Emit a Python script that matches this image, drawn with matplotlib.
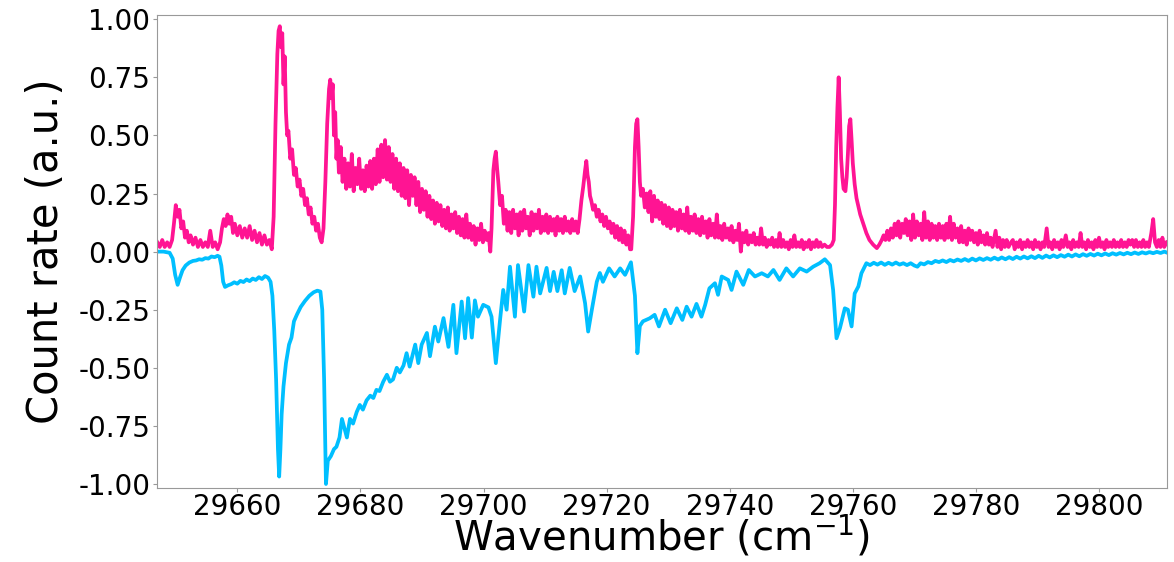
import numpy as np
import matplotlib
matplotlib.use("Agg")
import matplotlib.pyplot as plt

exp_pts = [
    (29647.0, 0.04), (29647.4, 0.02), (29647.8, 0.05), (29648.2, 0.02), (29648.6, 0.04), (29649.0, 0.02), (29649.4, 0.05),
    (29649.7, 0.12), (29650.0, 0.20), (29650.3, 0.15), (29650.6, 0.18), (29650.9, 0.10), (29651.2, 0.13), (29651.5, 0.06),
    (29651.8, 0.09), (29652.1, 0.04), (29652.4, 0.07), (29652.8, 0.03), (29653.2, 0.06), (29653.6, 0.02), (29654.0, 0.05),
    (29654.4, 0.02), (29654.8, 0.04), (29655.2, 0.02), (29655.6, 0.09), (29656.0, 0.02), (29656.4, 0.04), (29656.8, 0.01),
    (29657.2, 0.04), (29657.5, 0.10), (29657.8, 0.14), (29658.1, 0.11), (29658.4, 0.16), (29658.7, 0.12), (29659.0, 0.15),
    (29659.3, 0.08), (29659.6, 0.12), (29660.0, 0.07), (29660.4, 0.11), (29660.8, 0.06), (29661.2, 0.10), (29661.6, 0.06),
    (29662.0, 0.11), (29662.4, 0.05), (29662.8, 0.09), (29663.2, 0.04), (29663.6, 0.08), (29664.0, 0.03), (29664.4, 0.07),
    (29664.8, 0.03), (29665.2, 0.05), (29665.6, 0.01),
    (29665.9, 0.15), (29666.2, 0.55), (29666.5, 0.85), (29666.7, 0.95), (29666.9, 0.97), (29667.1, 0.88), (29667.3, 0.94),
    (29667.5, 0.72), (29667.7, 0.84), (29667.9, 0.60), (29668.1, 0.50), (29668.3, 0.52), (29668.6, 0.40), (29668.9, 0.44),
    (29669.2, 0.33), (29669.5, 0.36), (29669.8, 0.28), (29670.1, 0.31), (29670.4, 0.24), (29670.7, 0.27), (29671.0, 0.20),
    (29671.3, 0.23), (29671.6, 0.16), (29671.9, 0.19), (29672.2, 0.12), (29672.5, 0.15), (29672.8, 0.09), (29673.1, 0.12),
    (29673.4, 0.06), (29673.7, 0.04),
    (29674.0, 0.10), (29674.3, 0.30), (29674.6, 0.55), (29674.9, 0.70), (29675.1, 0.74), (29675.3, 0.66), (29675.5, 0.72),
    (29675.7, 0.50), (29675.9, 0.60), (29676.1, 0.40), (29676.3, 0.48), (29676.5, 0.34), (29676.8, 0.45), (29677.1, 0.30),
    (29677.4, 0.40), (29677.7, 0.27), (29678.0, 0.38), (29678.3, 0.28), (29678.6, 0.42), (29678.9, 0.26), (29679.2, 0.36),
    (29679.5, 0.29), (29679.8, 0.40), (29680.1, 0.27), (29680.4, 0.35), (29680.7, 0.26), (29681.0, 0.37), (29681.3, 0.28),
    (29681.6, 0.39), (29681.9, 0.27), (29682.2, 0.40), (29682.5, 0.29), (29682.8, 0.44), (29683.1, 0.30), (29683.4, 0.46),
    (29683.7, 0.32), (29684.0, 0.48), (29684.3, 0.31), (29684.6, 0.45), (29684.9, 0.30), (29685.2, 0.42), (29685.5, 0.27),
    (29685.8, 0.40), (29686.1, 0.26), (29686.4, 0.38), (29686.7, 0.24), (29687.0, 0.36), (29687.3, 0.23), (29687.6, 0.35),
    (29687.9, 0.20), (29688.2, 0.33), (29688.5, 0.24), (29688.8, 0.32), (29689.1, 0.20), (29689.4, 0.30), (29689.7, 0.17),
    (29690.0, 0.27), (29690.3, 0.18), (29690.6, 0.26), (29690.9, 0.15), (29691.2, 0.24), (29691.5, 0.14), (29691.8, 0.22),
    (29692.1, 0.12), (29692.4, 0.21), (29692.7, 0.13), (29693.0, 0.20), (29693.3, 0.11), (29693.6, 0.18), (29693.9, 0.10),
    (29694.2, 0.19), (29694.5, 0.09), (29694.8, 0.16), (29695.1, 0.10), (29695.4, 0.17), (29695.7, 0.08), (29696.0, 0.15),
    (29696.3, 0.07), (29696.6, 0.14), (29696.9, 0.06), (29697.2, 0.16), (29697.5, 0.06), (29697.8, 0.12), (29698.1, 0.05),
    (29698.4, 0.11), (29698.7, 0.03), (29699.0, 0.10), (29699.3, 0.05), (29699.6, 0.12), (29699.9, 0.04), (29700.2, 0.09),
    (29700.5, 0.05), (29700.8, 0.08), (29701.1, 0.00),
    (29701.3, 0.10), (29701.6, 0.35), (29701.8, 0.40), (29702.0, 0.43), (29702.2, 0.36), (29702.4, 0.30), (29702.7, 0.20),
    (29703.0, 0.24), (29703.3, 0.12), (29703.6, 0.18), (29703.9, 0.09), (29704.2, 0.17), (29704.5, 0.08), (29704.8, 0.18),
    (29705.1, 0.10), (29705.4, 0.16), (29705.7, 0.07), (29706.0, 0.17), (29706.3, 0.09), (29706.6, 0.18), (29706.9, 0.10),
    (29707.2, 0.15), (29707.5, 0.07), (29707.8, 0.17), (29708.1, 0.09), (29708.4, 0.16), (29708.7, 0.10), (29709.0, 0.18),
    (29709.3, 0.08), (29709.6, 0.15), (29709.9, 0.09), (29710.2, 0.16), (29710.5, 0.08), (29710.8, 0.15), (29711.1, 0.09),
    (29711.4, 0.14), (29711.7, 0.07), (29712.0, 0.15), (29712.3, 0.09), (29712.6, 0.14), (29712.9, 0.08), (29713.2, 0.15),
    (29713.5, 0.09), (29713.8, 0.13), (29714.1, 0.08), (29714.4, 0.14), (29714.7, 0.09), (29715.0, 0.13), (29715.3, 0.08),
    (29715.6, 0.14), (29715.9, 0.22), (29716.2, 0.28), (29716.5, 0.35), (29716.7, 0.39), (29716.9, 0.33), (29717.1, 0.30),
    (29717.3, 0.24), (29717.5, 0.22), (29717.8, 0.18), (29718.1, 0.20), (29718.4, 0.15), (29718.7, 0.18), (29719.0, 0.13),
    (29719.3, 0.16), (29719.6, 0.11), (29719.9, 0.15), (29720.2, 0.10), (29720.5, 0.13), (29720.8, 0.08), (29721.1, 0.12),
    (29721.4, 0.06), (29721.7, 0.11), (29722.0, 0.05), (29722.3, 0.10), (29722.6, 0.04), (29722.9, 0.09), (29723.2, 0.03),
    (29723.5, 0.07), (29723.8, 0.01), (29724.0, 0.01),
    (29724.3, 0.15), (29724.6, 0.45), (29724.8, 0.55), (29725.0, 0.57), (29725.2, 0.45), (29725.4, 0.30), (29725.6, 0.24),
    (29725.9, 0.27), (29726.2, 0.19), (29726.5, 0.25), (29726.8, 0.17), (29727.1, 0.26), (29727.4, 0.13), (29727.7, 0.24),
    (29728.0, 0.15), (29728.3, 0.22), (29728.6, 0.14), (29728.9, 0.21), (29729.2, 0.12), (29729.5, 0.20), (29729.8, 0.11),
    (29730.1, 0.19), (29730.4, 0.10), (29730.7, 0.18), (29731.0, 0.11), (29731.3, 0.17), (29731.6, 0.09), (29731.9, 0.18),
    (29732.2, 0.10), (29732.5, 0.16), (29732.8, 0.09), (29733.1, 0.19), (29733.4, 0.08), (29733.7, 0.15), (29734.0, 0.09),
    (29734.3, 0.16), (29734.6, 0.08), (29734.9, 0.14), (29735.2, 0.07), (29735.5, 0.15), (29735.8, 0.08), (29736.1, 0.13),
    (29736.4, 0.06), (29736.7, 0.14), (29737.0, 0.07), (29737.3, 0.12), (29737.6, 0.06), (29737.9, 0.16), (29738.2, 0.06),
    (29738.5, 0.11), (29738.8, 0.05), (29739.1, 0.12), (29739.4, 0.06), (29739.7, 0.10), (29740.0, 0.05), (29740.3, 0.11),
    (29740.6, 0.04), (29740.9, 0.09), (29741.2, 0.05), (29741.5, 0.12), (29741.8, 0.00), (29742.1, 0.08), (29742.4, 0.04),
    (29742.7, 0.09), (29743.0, 0.03), (29743.3, 0.07), (29743.6, 0.04), (29743.9, 0.08), (29744.2, 0.03), (29744.5, 0.06),
    (29744.8, 0.03), (29745.1, 0.10), (29745.4, 0.03), (29745.7, 0.06), (29746.0, 0.02), (29746.3, 0.05), (29746.6, 0.03),
    (29746.9, 0.06), (29747.2, 0.02), (29747.5, 0.05), (29747.8, 0.02), (29748.1, 0.08), (29748.4, 0.02), (29748.7, 0.05),
    (29749.0, 0.02), (29749.3, 0.04), (29749.6, 0.01), (29749.9, 0.05), (29750.2, 0.02), (29750.5, 0.07), (29750.8, 0.02),
    (29751.1, 0.04), (29751.4, 0.02), (29751.7, 0.05), (29752.0, 0.01), (29752.3, 0.04), (29752.6, 0.02), (29752.9, 0.05),
    (29753.2, 0.01), (29753.5, 0.04), (29753.8, 0.02), (29754.1, 0.05), (29754.4, 0.02), (29754.7, 0.04), (29755.0, 0.02),
    (29755.4, 0.03), (29755.8, 0.02), (29756.2, 0.02), (29756.6, 0.03), (29756.9, 0.05),
    (29757.1, 0.20), (29757.3, 0.45), (29757.5, 0.62), (29757.7, 0.75), (29757.9, 0.60), (29758.1, 0.40), (29758.3, 0.32),
    (29758.5, 0.27), (29758.8, 0.26), (29759.0, 0.32), (29759.2, 0.42), (29759.4, 0.54), (29759.6, 0.57), (29759.8, 0.48),
    (29760.0, 0.38), (29760.3, 0.29), (29760.6, 0.23), (29761.2, 0.16), (29761.7, 0.12), (29762.2, 0.08), (29762.7, 0.05),
    (29763.3, 0.03), (29763.9, 0.015), (29764.3, 0.03), (29764.7, 0.05), (29765.0, 0.07), (29765.3, 0.05), (29765.6, 0.09),
    (29765.9, 0.05), (29766.2, 0.10), (29766.5, 0.06), (29766.8, 0.12), (29767.1, 0.07), (29767.4, 0.13), (29767.7, 0.06),
    (29768.0, 0.12), (29768.3, 0.08), (29768.6, 0.14), (29768.9, 0.07), (29769.2, 0.13), (29769.5, 0.05), (29769.8, 0.16),
    (29770.1, 0.06), (29770.4, 0.13), (29770.7, 0.07), (29771.0, 0.12), (29771.3, 0.05), (29771.6, 0.17), (29771.9, 0.06),
    (29772.2, 0.13), (29772.5, 0.05), (29772.8, 0.12), (29773.1, 0.06), (29773.4, 0.11), (29773.7, 0.05), (29774.0, 0.12),
    (29774.3, 0.06), (29774.6, 0.11), (29774.9, 0.05), (29775.2, 0.12), (29775.5, 0.06), (29775.8, 0.15), (29776.1, 0.05),
    (29776.4, 0.12), (29776.7, 0.06), (29777.0, 0.10), (29777.3, 0.04), (29777.6, 0.11), (29777.9, 0.04), (29778.2, 0.09),
    (29778.5, 0.03), (29778.8, 0.10), (29779.1, 0.05), (29779.4, 0.09), (29779.7, 0.04), (29780.0, 0.08), (29780.3, 0.03),
    (29780.6, 0.09), (29780.9, 0.04), (29781.2, 0.07), (29781.5, 0.03), (29781.8, 0.08), (29782.1, 0.03), (29782.4, 0.06),
    (29782.7, 0.02), (29783.2, 0.09), (29783.5, 0.02), (29783.8, 0.06), (29784.1, 0.01), (29784.4, 0.05), (29784.7, 0.02),
    (29785.0, 0.05), (29785.3, 0.02), (29785.7, 0.04), (29786.0, 0.05), (29786.3, 0.01), (29786.6, 0.04), (29786.9, 0.02),
    (29787.2, 0.05), (29787.5, 0.01), (29787.8, 0.04), (29788.1, 0.02), (29788.4, 0.05), (29788.7, 0.02), (29789.0, 0.04),
    (29789.3, 0.01), (29789.6, 0.05), (29789.9, 0.02), (29790.2, 0.04), (29790.5, 0.01), (29790.8, 0.04), (29791.1, 0.02),
    (29791.5, 0.10), (29791.8, 0.02), (29792.1, 0.04), (29792.4, 0.01), (29792.7, 0.05), (29793.0, 0.02), (29793.3, 0.04),
    (29793.6, 0.01), (29793.9, 0.05), (29794.2, 0.02), (29794.6, 0.07), (29794.9, 0.02), (29795.2, 0.04), (29795.5, 0.01),
    (29795.8, 0.05), (29796.1, 0.02), (29796.4, 0.04), (29796.7, 0.02), (29797.0, 0.08), (29797.3, 0.02), (29797.6, 0.04),
    (29797.9, 0.01), (29798.2, 0.05), (29798.5, 0.02), (29798.8, 0.04), (29799.1, 0.01), (29799.4, 0.05), (29799.7, 0.02),
    (29800.0, 0.06), (29800.3, 0.02), (29800.6, 0.04), (29800.9, 0.01), (29801.2, 0.05), (29801.5, 0.02), (29801.8, 0.04),
    (29802.1, 0.02), (29802.4, 0.05), (29802.7, 0.02), (29803.0, 0.04), (29803.3, 0.02), (29803.6, 0.05), (29803.9, 0.02),
    (29804.2, 0.04), (29804.5, 0.02), (29804.8, 0.05), (29805.1, 0.03), (29805.4, 0.05), (29805.7, 0.02), (29806.0, 0.05),
    (29806.3, 0.02), (29806.6, 0.04), (29806.9, 0.02), (29807.2, 0.05), (29807.5, 0.02), (29807.8, 0.04), (29808.1, 0.02),
    (29808.5, 0.08), (29808.8, 0.14), (29809.1, 0.04), (29809.4, 0.02), (29809.7, 0.05), (29810.0, 0.02), (29810.3, 0.06),
    (29810.6, 0.02), (29811.0, 0.04),
]

# simulated spectrum, drawn mirrored (negative) under the measurement
sim_pts = [
    (29647.0, 0.000), (29648.0, 0.000), (29649.0, -0.005), (29649.5, -0.030), (29649.9, -0.100), (29650.3, -0.143),
    (29650.7, -0.110), (29651.1, -0.080), (29651.6, -0.060), (29652.2, -0.047), (29652.8, -0.040), (29653.3, -0.038),
    (29653.8, -0.033), (29654.3, -0.035), (29654.8, -0.028), (29655.3, -0.030), (29655.8, -0.021), (29656.3, -0.024),
    (29656.8, -0.018), (29657.1, -0.022), (29657.4, -0.060), (29657.7, -0.130), (29658.0, -0.152), (29658.5, -0.145),
    (29659.0, -0.140), (29659.5, -0.132), (29660.0, -0.138), (29660.5, -0.126), (29661.0, -0.131), (29661.5, -0.120),
    (29662.0, -0.127), (29662.5, -0.116), (29663.0, -0.122), (29663.5, -0.110), (29664.0, -0.118), (29664.5, -0.105),
    (29665.0, -0.112), (29665.4, -0.130), (29665.7, -0.190), (29666.0, -0.340), (29666.3, -0.550), (29666.6, -0.850),
    (29666.8, -0.968), (29667.0, -0.850), (29667.2, -0.700), (29667.5, -0.580), (29667.9, -0.480), (29668.4, -0.400),
    (29668.8, -0.370), (29669.2, -0.300), (29669.7, -0.270), (29670.3, -0.238), (29671.0, -0.212), (29671.7, -0.190),
    (29672.4, -0.175), (29673.0, -0.168), (29673.5, -0.172), (29673.8, -0.250), (29674.1, -0.550), (29674.4, -1.000),
    (29674.7, -0.900), (29675.2, -0.880), (29675.7, -0.850), (29676.1, -0.840), (29676.6, -0.800), (29677.0, -0.720),
    (29677.4, -0.760), (29677.8, -0.800), (29678.3, -0.720), (29678.8, -0.740), (29679.4, -0.690), (29679.9, -0.660),
    (29680.4, -0.680), (29681.0, -0.640), (29681.6, -0.620), (29682.1, -0.630), (29682.6, -0.595), (29683.1, -0.600),
    (29683.7, -0.560), (29684.3, -0.530), (29684.8, -0.560), (29685.3, -0.550), (29685.9, -0.500), (29686.4, -0.520),
    (29687.0, -0.490), (29687.5, -0.437), (29688.0, -0.495), (29688.9, -0.400), (29689.4, -0.480), (29689.95, -0.400),
    (29690.8, -0.350), (29691.3, -0.450), (29692.1, -0.323), (29692.65, -0.387), (29693.5, -0.286), (29694.3, -0.410),
    (29695.1, -0.229), (29695.6, -0.437), (29696.45, -0.215), (29697.0, -0.373), (29697.5, -0.200), (29698.1, -0.370),
    (29698.6, -0.210), (29699.1, -0.280), (29699.95, -0.229), (29700.8, -0.240), (29701.3, -0.280), (29702.0, -0.480),
    (29702.7, -0.290), (29703.2, -0.165), (29703.75, -0.250), (29704.3, -0.065), (29705.1, -0.280), (29705.6, -0.058),
    (29706.6, -0.258), (29707.3, -0.058), (29708.1, -0.194), (29708.6, -0.065), (29709.2, -0.180), (29710.25, -0.070),
    (29710.8, -0.170), (29711.4, -0.087), (29712.0, -0.170), (29712.7, -0.080), (29713.2, -0.180), (29714.0, -0.070),
    (29714.8, -0.170), (29715.7, -0.107), (29716.5, -0.222), (29717.0, -0.344), (29717.6, -0.250), (29718.4, -0.130),
    (29718.9, -0.092), (29719.4, -0.130), (29720.4, -0.072), (29721.3, -0.107), (29722.2, -0.072), (29723.0, -0.100),
    (29723.95, -0.046), (29724.6, -0.190), (29725.0, -0.437), (29725.4, -0.320), (29725.9, -0.300), (29727.0, -0.287),
    (29727.8, -0.272), (29728.5, -0.322), (29729.5, -0.250), (29730.4, -0.308), (29731.4, -0.244), (29732.3, -0.294),
    (29733.0, -0.237), (29733.8, -0.280), (29734.6, -0.225), (29735.4, -0.280), (29736.0, -0.230), (29736.7, -0.158),
    (29737.6, -0.136), (29738.1, -0.186), (29738.7, -0.107), (29739.75, -0.122), (29740.3, -0.165), (29741.1, -0.086),
    (29742.2, -0.143), (29743.1, -0.079), (29744.1, -0.107), (29745.2, -0.093), (29746.2, -0.107), (29747.1, -0.079),
    (29748.1, -0.122), (29749.2, -0.072), (29750.3, -0.107), (29751.4, -0.072), (29752.5, -0.086), (29753.55, -0.065),
    (29754.6, -0.050), (29755.45, -0.033), (29756.3, -0.058), (29756.8, -0.165), (29757.35, -0.373), (29757.9, -0.330),
    (29758.7, -0.244), (29759.2, -0.250), (29759.8, -0.322), (29760.3, -0.180), (29760.9, -0.150), (29761.4, -0.093),
    (29762.2, -0.050), (29762.8, -0.058), (29763.4, -0.048), (29764.0, -0.056), (29764.6, -0.047), (29765.2, -0.057),
    (29765.8, -0.048), (29766.4, -0.056), (29767.0, -0.047), (29767.6, -0.056), (29768.2, -0.050), (29768.8, -0.058),
    (29769.4, -0.050), (29770.0, -0.060), (29770.5, -0.065), (29771.0, -0.050), (29771.6, -0.055), (29772.2, -0.045),
    (29772.8, -0.050), (29773.4, -0.040), (29774.0, -0.045), (29774.6, -0.038), (29775.2, -0.045), (29775.8, -0.036),
    (29776.4, -0.042), (29777.0, -0.034), (29777.6, -0.040), (29778.2, -0.032), (29778.8, -0.040), (29779.4, -0.030),
    (29780.0, -0.038), (29780.6, -0.029), (29781.2, -0.036), (29781.8, -0.028), (29782.4, -0.035), (29783.0, -0.026),
    (29783.6, -0.034), (29784.2, -0.025), (29784.8, -0.033), (29785.4, -0.024), (29786.0, -0.032), (29786.6, -0.022),
    (29787.2, -0.030), (29787.8, -0.021), (29788.4, -0.029), (29789.0, -0.020), (29789.6, -0.028), (29790.2, -0.018),
    (29790.8, -0.027), (29791.4, -0.017), (29792.0, -0.025), (29792.6, -0.016), (29793.2, -0.024), (29793.8, -0.015),
    (29794.4, -0.022), (29795.0, -0.013), (29795.6, -0.021), (29796.2, -0.012), (29796.8, -0.020), (29797.4, -0.011),
    (29798.0, -0.018), (29798.6, -0.010), (29799.2, -0.017), (29799.8, -0.009), (29800.4, -0.016), (29801.0, -0.008),
    (29801.6, -0.015), (29802.2, -0.007), (29802.8, -0.013), (29803.4, -0.006), (29804.0, -0.012), (29804.6, -0.005),
    (29805.2, -0.011), (29805.8, -0.004), (29806.4, -0.010), (29807.0, -0.003), (29807.6, -0.008), (29808.2, -0.002),
    (29808.8, -0.007), (29809.4, -0.001), (29810.0, -0.006), (29810.6, 0.000), (29811.0, -0.004),
]

x_ticks = [29660, 29680, 29700, 29720, 29740, 29760, 29780, 29800]
y_ticks = [-1.0, -0.75, -0.5, -0.25, 0.0, 0.25, 0.5, 0.75, 1.0]

plt.rcParams['axes.unicode_minus'] = False
plt.rcParams['font.family'] = 'DejaVu Sans'

exp_wn, exp_rate = np.array(exp_pts).T
sim_wn, sim_rate = np.array(sim_pts).T

fig = plt.figure(figsize=(11.74, 5.62), dpi=100)
ax = fig.add_axes([0.134, 0.1322, 0.8598, 0.8406])

ax.plot(exp_wn, exp_rate, color='deeppink', lw=2.7)
ax.plot(sim_wn, sim_rate, color='deepskyblue', lw=2.7)

ax.set_xlim(29647.0, 29811.0)
ax.set_ylim(-1.016, 1.017)
ax.set_xticks(x_ticks)
ax.set_yticks(y_ticks)
ax.set_yticklabels(['%.2f' % v for v in y_ticks])

ax.tick_params(labelsize=20, length=3, width=0.8, color='#999999', pad=2)
ax.tick_params(axis='x', pad=1)
for sp in ax.spines.values():
    sp.set_color('#999999')
    sp.set_linewidth(0.8)

ax.set_xlabel('Wavenumber (cm$^{-1}$)', fontsize=29, labelpad=-5)
ax.set_ylabel('Count rate (a.u.)', fontsize=30, labelpad=8)

fig.savefig('out.png', dpi=100)
